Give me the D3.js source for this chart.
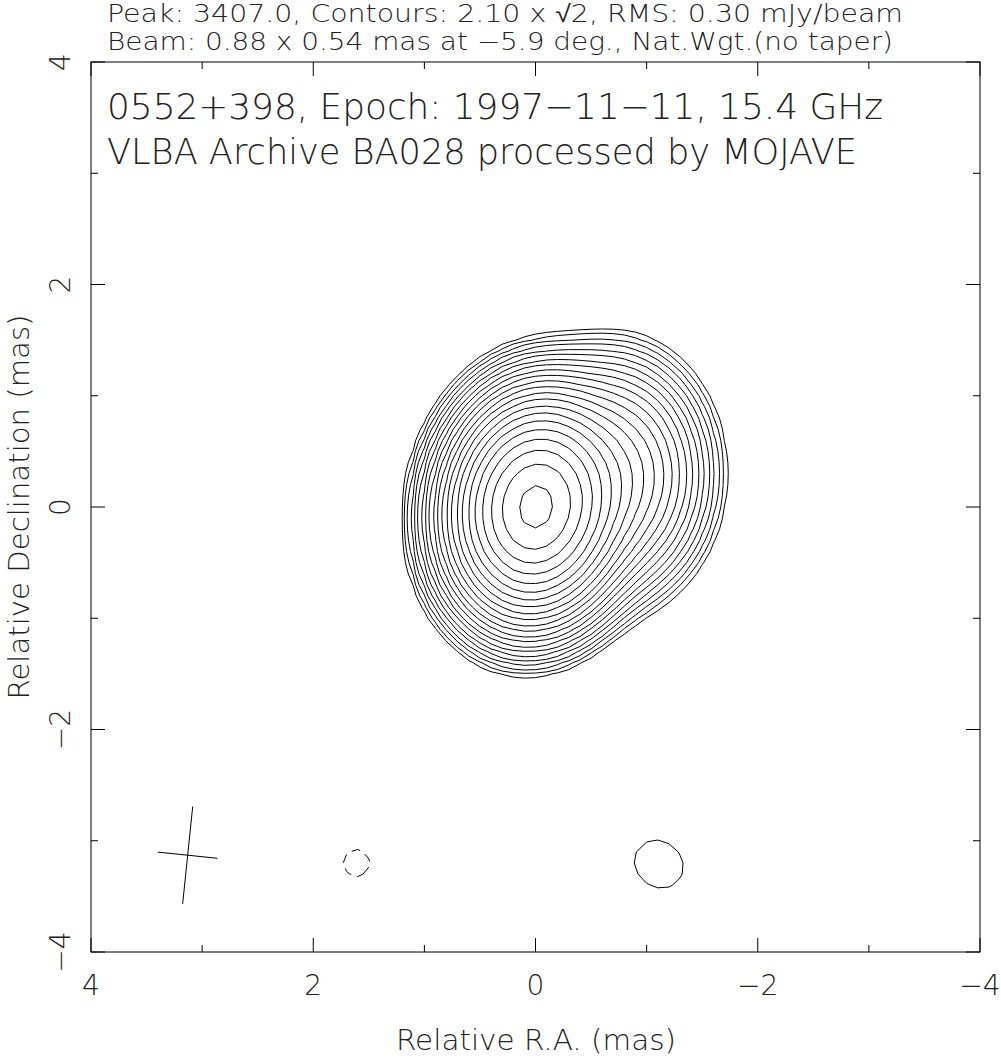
<!DOCTYPE html>
<html><head><meta charset="utf-8">
<script src="https://cdn.jsdelivr.net/npm/d3@7"></script>
<style>
html,body{margin:0;padding:0;background:#fff;}
svg text{font-family:"DejaVu Sans ExtraLight","DejaVu Sans",sans-serif;font-weight:200;fill:#222;}
</style></head>
<body>
<svg id="c" width="1001" height="1058"></svg>
<script>
// ---- data ----
const titleLines = ["Peak: 3407.0, Contours: 2.10 x \u221A2, RMS: 0.30 mJy/beam",
                    "Beam: 0.88 x 0.54 mas at \u22125.9 deg., Nat.Wgt.(no taper)"];
const innerLines = ["0552+398, Epoch: 1997\u221211\u221211, 15.4 GHz",
                    "VLBA Archive BA028 processed by MOJAVE"];
const xLabel = "Relative R.A. (mas)";
const yLabel = "Relative Declination (mas)";
const majorTicks = [4, 2, 0, -2, -4];
const minorTicks = [3, 1, -1, -3];
// image model components (mas, mJy/beam, FWHM mas, PA deg)
const compRA   = [0.00, -0.68, -1.11, 1.61];
const compDec  = [0.00,  0.28, -3.21, -3.20];
const compPeak = [3392,  240,   2.85, -2.6];
const compMaj  = [0.94,  1.00,  0.70,  0.45];
const compMin  = [0.73,  0.80,  0.62,  0.45];
const compPA   = [-8,    -2,    50,    0];
const peak = 3407.0, baseLevel = 2.10, nLevels = 22;
const beam = {maj: 0.88, min: 0.54, pa: -5.9, ra: 3.13, dec: -3.13};
const pixel = 0.1, fieldHalf = 4;

// ---- layout ----
const svg = d3.select("#c");
const x = d3.scaleLinear().domain([4, -4]).range([91, 980]);
const y = d3.scaleLinear().domain([4, -4]).range([62, 952]);

// ---- image grid ----
const n = Math.round(2 * fieldHalf / pixel) + 1;
const vals = new Float64Array(n * n);
const s2f = 1 / (2 * Math.sqrt(2 * Math.LN2));
for (let j = 0; j < n; j++) {
  const dec = fieldHalf - j * pixel;
  for (let i = 0; i < n; i++) {
    const ra = fieldHalf - i * pixel;
    let v = 0;
    for (let c = 0; c < compRA.length; c++) {
      const t = compPA[c] * Math.PI / 180;
      const dx = ra - compRA[c], dy = dec - compDec[c];
      const u = dx * Math.sin(t) + dy * Math.cos(t);
      const w = dx * Math.cos(t) - dy * Math.sin(t);
      const sa = compMaj[c] * s2f, sb = compMin[c] * s2f;
      v += compPeak[c] * Math.exp(-u * u / (2 * sa * sa) - w * w / (2 * sb * sb));
    }
    vals[j * n + i] = v;
  }
}
const levels = d3.range(nLevels).map(k => baseLevel * Math.pow(Math.SQRT2, k));
const proj = d3.geoTransform({point: function(px, py) {
  this.stream.point(x(fieldHalf - (px - 0.5) * pixel), y(fieldHalf - (py - 0.5) * pixel));
}});
const path = d3.geoPath(proj);
const pos = d3.contours().size([n, n]).thresholds(levels)(Array.from(vals));
const neg = d3.contours().size([n, n]).thresholds(levels)(Array.from(vals, v => -v));

const g = svg.append("g");
g.selectAll("path.pos").data(pos.filter(d => d.coordinates.length)).join("path").attr("class", "pos")
  .attr("d", path).attr("fill", "none").attr("stroke", "#000").attr("stroke-width", 1);
g.selectAll("path.neg").data(neg.filter(d => d.coordinates.length)).join("path").attr("class", "neg")
  .attr("d", path).attr("fill", "none").attr("stroke", "#000").attr("stroke-width", 1)
  .attr("stroke-dasharray", "9,6");

// ---- beam cross ----
const bt = beam.pa * Math.PI / 180;
const bmaj = [[beam.ra + beam.maj / 2 * Math.sin(bt), beam.dec + beam.maj / 2 * Math.cos(bt)],
              [beam.ra - beam.maj / 2 * Math.sin(bt), beam.dec - beam.maj / 2 * Math.cos(bt)]];
const bmin = [[beam.ra + beam.min / 2 * Math.cos(bt), beam.dec - beam.min / 2 * Math.sin(bt)],
              [beam.ra - beam.min / 2 * Math.cos(bt), beam.dec + beam.min / 2 * Math.sin(bt)]];
[bmaj, bmin].forEach(seg => {
  svg.append("line").attr("x1", x(seg[0][0])).attr("y1", y(seg[0][1]))
    .attr("x2", x(seg[1][0])).attr("y2", y(seg[1][1])).attr("stroke", "#000").attr("stroke-width", 1);
});

// ---- frame & ticks ----
svg.append("rect").attr("x", x(4)).attr("y", y(4)).attr("width", x(-4) - x(4)).attr("height", y(-4) - y(4))
  .attr("fill", "none").attr("stroke", "#000").attr("stroke-width", 1);
const allTicks = majorTicks.map(v => ({v, L: 14})).concat(minorTicks.map(v => ({v, L: 7})));
allTicks.forEach(t => {
  svg.append("line").attr("x1", x(t.v)).attr("x2", x(t.v)).attr("y1", y(-4)).attr("y2", y(-4) - t.L).attr("stroke", "#000");
  svg.append("line").attr("x1", x(t.v)).attr("x2", x(t.v)).attr("y1", y(4)).attr("y2", y(4) + t.L).attr("stroke", "#000");
  svg.append("line").attr("y1", y(t.v)).attr("y2", y(t.v)).attr("x1", x(4)).attr("x2", x(4) + t.L).attr("stroke", "#000");
  svg.append("line").attr("y1", y(t.v)).attr("y2", y(t.v)).attr("x1", x(-4)).attr("x2", x(-4) - t.L).attr("stroke", "#000");
});
const fmt = v => (v < 0 ? "\u2212" : "") + Math.abs(v);
majorTicks.forEach(v => {
  svg.append("text").attr("x", x(v)).attr("y", 995).attr("text-anchor", "middle")
    .attr("font-size", 28).text(fmt(v));
  svg.append("text").attr("transform", `translate(70,${y(v)}) rotate(-90)`).attr("text-anchor", "middle")
    .attr("font-size", 28).text(fmt(v));
});
// ---- texts ----
svg.append("text").attr("x", 107).attr("y", 22).attr("font-size", 24).attr("textLength", 796)
  .attr("lengthAdjust", "spacingAndGlyphs").text(titleLines[0]);
svg.append("text").attr("x", 107).attr("y", 50).attr("font-size", 24).attr("textLength", 786)
  .attr("lengthAdjust", "spacingAndGlyphs").text(titleLines[1]);
svg.append("text").attr("x", 107).attr("y", 119).attr("font-size", 36).attr("textLength", 776)
  .attr("lengthAdjust", "spacingAndGlyphs").text(innerLines[0]);
svg.append("text").attr("x", 107).attr("y", 164).attr("font-size", 36).attr("textLength", 750)
  .attr("lengthAdjust", "spacingAndGlyphs").text(innerLines[1]);
svg.append("text").attr("x", 536).attr("y", 1050).attr("text-anchor", "middle").attr("font-size", 29)
  .attr("textLength", 280).attr("lengthAdjust", "spacingAndGlyphs").text(xLabel);
svg.append("text").attr("transform", `translate(29,${y(0)}) rotate(-90)`).attr("text-anchor", "middle")
  .attr("font-size", 28).attr("textLength", 385).attr("lengthAdjust", "spacingAndGlyphs").text(yLabel);
</script>
</body></html>
